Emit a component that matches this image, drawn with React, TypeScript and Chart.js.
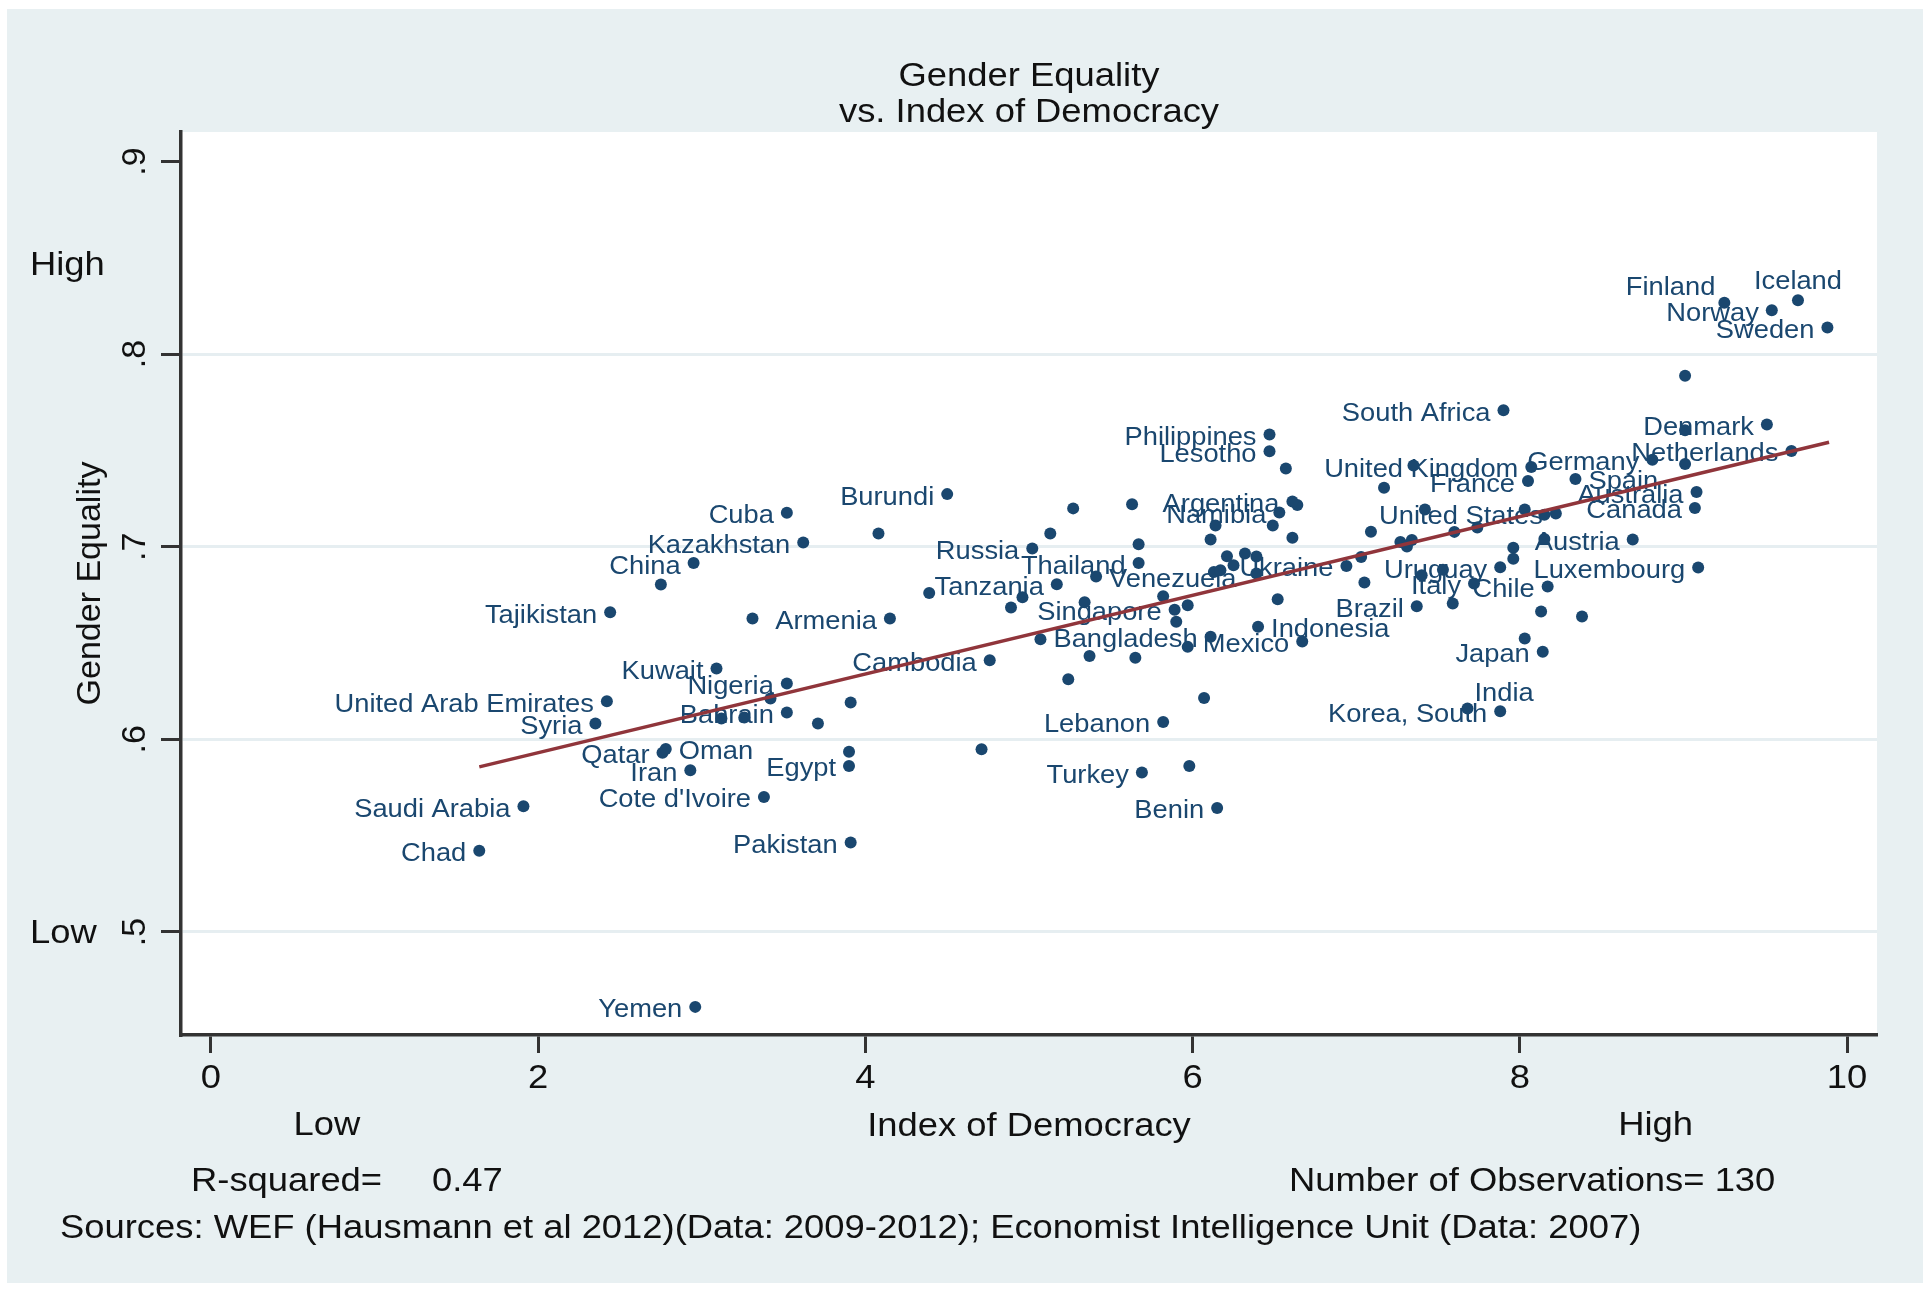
import React, { useEffect, useRef } from 'react';
import { Chart, registerables } from 'chart.js';

Chart.register(...registerables);

// ---------- data ----------
const labeledNames = [
  'Iceland', 'Finland', 'Norway', 'Sweden', 'South Africa', 'Denmark', 'Netherlands',
  'Philippines', 'Lesotho', 'United Kingdom', 'Germany', 'France', 'Spain', 'Australia',
  'Canada', 'United States', 'Argentina', 'Namibia', 'Austria', 'Uruguay', 'Luxembourg',
  'Italy', 'Chile', 'Brazil', 'Japan', 'India', 'Korea, South', 'Indonesia', 'Mexico',
  'Ukraine', 'Venezuela', 'Thailand', 'Russia', 'Tanzania', 'Singapore', 'Bangladesh',
  'Cambodia', 'Lebanon', 'Turkey', 'Benin', 'Burundi', 'Cuba', 'Kazakhstan', 'China',
  'Tajikistan', 'Armenia', 'Kuwait', 'Nigeria', 'Bahrain', 'United Arab Emirates', 'Syria',
  'Qatar', 'Oman', 'Iran', 'Egypt', "Cote d'Ivoire", 'Pakistan', 'Saudi Arabia', 'Chad', 'Yemen',
];
const labeledDemocracy = [
  9.70, 9.25, 9.54, 9.88, 7.90, 9.51, 9.66,
  6.47, 6.47, 8.07, 8.81, 8.05, 8.34, 9.08,
  9.07, 8.22, 6.61, 6.53, 8.69, 7.88, 9.09,
  7.72, 8.17, 7.37, 8.14, 7.68, 7.88, 6.40, 6.67,
  6.94, 5.41, 5.67, 5.02, 5.17, 5.89, 6.11,
  4.76, 5.82, 5.69, 6.15, 4.50, 3.52, 3.62, 2.95,
  2.44, 4.15, 3.09, 3.52, 3.52, 2.42, 2.35,
  2.76, 2.78, 2.93, 3.90, 3.38, 3.91, 1.91, 1.64, 2.96,
];
const labeledEquality = [
  0.8280, 0.8266, 0.8228, 0.8138, 0.7709, 0.7634, 0.7497,
  0.7582, 0.7496, 0.7414, 0.7451, 0.7341, 0.7352, 0.7284,
  0.7201, 0.7172, 0.7235, 0.7178, 0.7037, 0.6893, 0.6892,
  0.6809, 0.6793, 0.6691, 0.6455, 0.6160, 0.6146, 0.6584, 0.6508,
  0.6900, 0.6845, 0.6915, 0.6991, 0.6805, 0.6673, 0.6533,
  0.6411, 0.6090, 0.5828, 0.5644, 0.7273, 0.7176, 0.7022, 0.6915,
  0.6660, 0.6627, 0.6368, 0.6290, 0.6139, 0.6198, 0.6082,
  0.5930, 0.5950, 0.5840, 0.5862, 0.5701, 0.5464, 0.5653, 0.5421, 0.4611,
];
// marker-label clock positions (Stata mlabvposition)
const labelClock = [
  12, 11, 9, 9, 9, 9, 9,
  9, 9, 9, 9, 9, 3, 9,
  9, 9, 9, 9, 9, 9, 9,
  9, 9, 9, 9, 1, 9, 3, 9,
  9, 3, 9, 9, 9, 9, 9,
  9, 9, 9, 9, 9, 9, 9, 9,
  9, 9, 9, 9, 9, 9, 9,
  9, 3, 9, 9, 9, 9, 9, 9, 9,
];

const otherDemocracy = [
  9.01, 9.01, 9.01, 6.57, 7.35, 7.17, 6.64, 6.14, 6.49, 6.61,
  4.08, 5.27, 5.63, 5.13, 5.67, 6.11, 6.21, 6.32, 6.39, 6.25,
  6.13, 6.17, 6.39, 4.39, 4.96, 5.82, 6.52, 4.89, 5.34, 5.97,
  5.90, 3.31, 5.97, 5.37, 5.65, 5.24, 3.42, 3.91, 6.07, 3.12,
  3.26, 3.71, 4.71, 3.90, 5.98, 5.07, 2.75, 8.03, 8.15, 7.42,
  7.60, 7.74, 7.09, 7.27, 7.34, 7.31, 8.15, 7.96, 7.96, 7.53,
  7.03, 7.05, 7.40, 7.59, 8.13, 8.38, 8.03,
];
const otherEquality = [
  0.7887, 0.7605, 0.7430, 0.7406, 0.7422, 0.7306, 0.7217, 0.7110, 0.7110, 0.7046,
  0.7068, 0.7199, 0.7220, 0.7069, 0.7013, 0.7037, 0.6951, 0.6965, 0.6949, 0.6904,
  0.6869, 0.6878, 0.6861, 0.6760, 0.6738, 0.6743, 0.6727, 0.6685, 0.6712, 0.6696,
  0.6610, 0.6627, 0.6480, 0.6432, 0.6423, 0.6312, 0.6212, 0.6191, 0.6215, 0.6108,
  0.6113, 0.6082, 0.5949, 0.5935, 0.5862, 0.6520, 0.6804, 0.7193, 0.7166, 0.7193,
  0.7077, 0.7100, 0.7078, 0.7025, 0.7035, 0.7001, 0.7040, 0.6995, 0.6937, 0.6880,
  0.6946, 0.6814, 0.6852, 0.6705, 0.6664, 0.6638, 0.6523,
];

// fitted line end points
const fitDemocracy = [1.64, 9.89];
const fitEquality = [0.5857, 0.7542];

// axes
const xTickValues = [0, 2, 4, 6, 8, 10];
const yTickValues = [0.5, 0.6, 0.7, 0.8, 0.9];
const yTickLabels = ['.5', '.6', '.7', '.8', '.9'];
const yWordValues = [0.5, 0.847];
const yWordLabels = ['Low', 'High'];
const xWordValues = [0.709, 8.83];
const xWordLabels = ['Low', 'High'];

const titleLines = ['Gender Equality', 'vs. Index of Democracy'];
const xTitle = 'Index of Democracy';
const yTitle = 'Gender Equality';
const rSquaredText = 'R-squared=';
const rSquaredValue = '0.47';
const obsText = 'Number of Observations= 130';
const sourceText = 'Sources: WEF (Hausmann et al 2012)(Data: 2009-2012); Economist Intelligence Unit (Data: 2007)';

// ---------- styling ----------
const FAMILY = '"Liberation Sans", Arial, Helvetica, sans-serif';
const BG = '#e8f0f2';
const GRID = '#e6eef1';
const AXIS = '#333333';
const NAVY = '#1a476f';
const MAROON = '#90353b';
const TEXT = '#111111';
const STRETCH = 1.07;

function drawText(
  ctx: CanvasRenderingContext2D,
  text: string,
  x: number,
  y: number,
  align: CanvasTextAlign,
  size: number,
  color: string,
) {
  ctx.save();
  ctx.font = `${size}px ${FAMILY}`;
  ctx.fillStyle = color;
  ctx.textBaseline = 'alphabetic';
  ctx.textAlign = align;
  ctx.translate(x, y);
  ctx.scale(STRETCH, 1);
  ctx.fillText(text, 0, 0);
  ctx.restore();
}

function drawRotated(
  ctx: CanvasRenderingContext2D,
  text: string,
  baselineX: number,
  centerY: number,
  size: number,
  color: string,
) {
  ctx.save();
  ctx.font = `${size}px ${FAMILY}`;
  ctx.fillStyle = color;
  ctx.textBaseline = 'alphabetic';
  ctx.textAlign = 'center';
  ctx.translate(baselineX, centerY);
  ctx.rotate(-Math.PI / 2);
  ctx.fillText(text, 0, 0);
  ctx.restore();
}

const stataPlugin = {
  id: 'stataLook',
  beforeDraw(chart: any) {
    const { ctx, chartArea: a } = chart;
    ctx.save();
    ctx.fillStyle = '#ffffff';
    ctx.fillRect(0, 0, chart.width, chart.height);
    ctx.fillStyle = BG;
    ctx.fillRect(7, 9, 1916, 1274);
    ctx.fillStyle = '#ffffff';
    ctx.fillRect(a.left, a.top, a.right - a.left, a.bottom - a.top);
    ctx.restore();
  },
  beforeDatasetsDraw(chart: any) {
    const { ctx } = chart;
    const meta = chart.getDatasetMeta(0);
    const size = 25.5;
    meta.data.forEach((pt: any, i: number) => {
      const name = labeledNames[i];
      if (!name) return;
      const pos = labelClock[i];
      const px = pt.x;
      const py = pt.y;
      if (pos === 9) drawText(ctx, name, px - 13, py + 10.5, 'right', size, NAVY);
      else if (pos === 3) drawText(ctx, name, px + 13, py + 10.5, 'left', size, NAVY);
      else if (pos === 12) drawText(ctx, name, px, py - 11, 'center', size, NAVY);
      else if (pos === 11) drawText(ctx, name, px - 9, py - 8, 'right', size, NAVY);
      else if (pos === 1) drawText(ctx, name, px + 7, py - 8, 'left', size, NAVY);
    });
  },
  afterDraw(chart: any) {
    const { ctx, chartArea: a, scales } = chart;
    const midX = (a.left + a.right) / 2;
    const midY = (a.top + a.bottom) / 2;
    const big = 34;

    // title
    drawText(ctx, titleLines[0], midX, 85.7, 'center', big, TEXT);
    drawText(ctx, titleLines[1], midX, 121.7, 'center', big, TEXT);

    // y axis tick labels (rotated) and words
    yTickValues.forEach((v, i) => {
      const py = scales.y.getPixelForValue(v);
      drawRotated(ctx, yTickLabels[i], 144.5, py, big, TEXT);
    });
    yWordValues.forEach((v, i) => {
      const py = scales.y.getPixelForValue(v);
      drawText(ctx, yWordLabels[i], 30, py + 11.5, 'left', big, TEXT);
    });
    drawRotated(ctx, yTitle, 100, midY, big, TEXT);

    // x axis tick labels and words
    xTickValues.forEach((v) => {
      const px = scales.x.getPixelForValue(v);
      drawText(ctx, String(v), px, 1088, 'center', big, TEXT);
    });
    xWordValues.forEach((v, i) => {
      const px = scales.x.getPixelForValue(v);
      drawText(ctx, xWordLabels[i], px, 1135, 'center', big, TEXT);
    });
    drawText(ctx, xTitle, midX, 1136, 'center', big, TEXT);

    // notes
    drawText(ctx, rSquaredText, 191, 1191, 'left', big, TEXT);
    drawText(ctx, rSquaredValue, 432, 1191, 'left', big, TEXT);
    drawText(ctx, obsText, 1289, 1191, 'left', big, TEXT);
    drawText(ctx, sourceText, 60, 1238, 'left', big, TEXT);
  },
};

export default function App() {
  const ref = useRef<HTMLCanvasElement>(null);

  useEffect(() => {
    const canvas = ref.current;
    if (!canvas) return;

    const labeledPoints = labeledDemocracy.map((x, i) => ({ x, y: labeledEquality[i] }));
    const otherPoints = otherDemocracy.map((x, i) => ({ x, y: otherEquality[i] }));
    const fitPoints = fitDemocracy.map((x, i) => ({ x, y: fitEquality[i] }));

    const chart = new Chart(canvas, {
      type: 'scatter',
      data: {
        datasets: [
          {
            label: 'labeled',
            data: labeledPoints,
            backgroundColor: NAVY,
            borderWidth: 0,
            pointRadius: 6,
            order: 1,
          },
          {
            label: 'other',
            data: otherPoints,
            backgroundColor: NAVY,
            borderWidth: 0,
            pointRadius: 6,
            order: 2,
          },
          {
            label: 'fit',
            data: fitPoints,
            showLine: true,
            borderColor: MAROON,
            borderWidth: 3.5,
            pointRadius: 0,
            fill: false,
            order: 0,
          } as any,
        ],
      },
      options: {
        responsive: false,
        maintainAspectRatio: false,
        animation: false,
        devicePixelRatio: 1,
        events: [],
        layout: { padding: { left: 81, right: 53, top: 132, bottom: 155 } },
        plugins: {
          legend: { display: false },
          tooltip: { enabled: false },
          title: { display: false },
        },
        scales: {
          x: {
            type: 'linear',
            min: -0.183,
            max: 10.183,
            afterBuildTicks: (scale: any) => {
              scale.ticks = xTickValues.map((v) => ({ value: v }));
            },
            afterFit: (scale: any) => {
              scale.height = 100;
            },
            ticks: { display: false },
            grid: {
              drawOnChartArea: false,
              drawTicks: true,
              tickLength: 18,
              tickColor: AXIS,
              tickWidth: 3,
            },
            border: { display: true, color: AXIS, width: 3.5 },
          },
          y: {
            type: 'linear',
            min: 0.4465,
            max: 0.9153,
            afterBuildTicks: (scale: any) => {
              scale.ticks = yTickValues.map((v) => ({ value: v }));
            },
            afterFit: (scale: any) => {
              scale.width = 100;
            },
            ticks: { display: false },
            grid: {
              drawOnChartArea: true,
              drawTicks: true,
              tickLength: 20,
              lineWidth: 3,
              color: (c: any) => (c.tick && Math.abs(c.tick.value - 0.9) < 1e-6 ? 'rgba(0,0,0,0)' : GRID),
              tickColor: AXIS,
              tickWidth: 3,
            },
            border: { display: true, color: AXIS, width: 3.5 },
          },
        },
      },
      plugins: [stataPlugin],
    } as any);

    return () => {
      chart.destroy();
    };
  }, []);

  return (
    <div style={{ position: 'absolute', left: 0, top: 0, width: 1930, height: 1290, background: '#fff', overflow: 'hidden' }}>
      <canvas ref={ref} width={1930} height={1290} style={{ display: 'block', width: 1930, height: 1290 }} />
    </div>
  );
}
